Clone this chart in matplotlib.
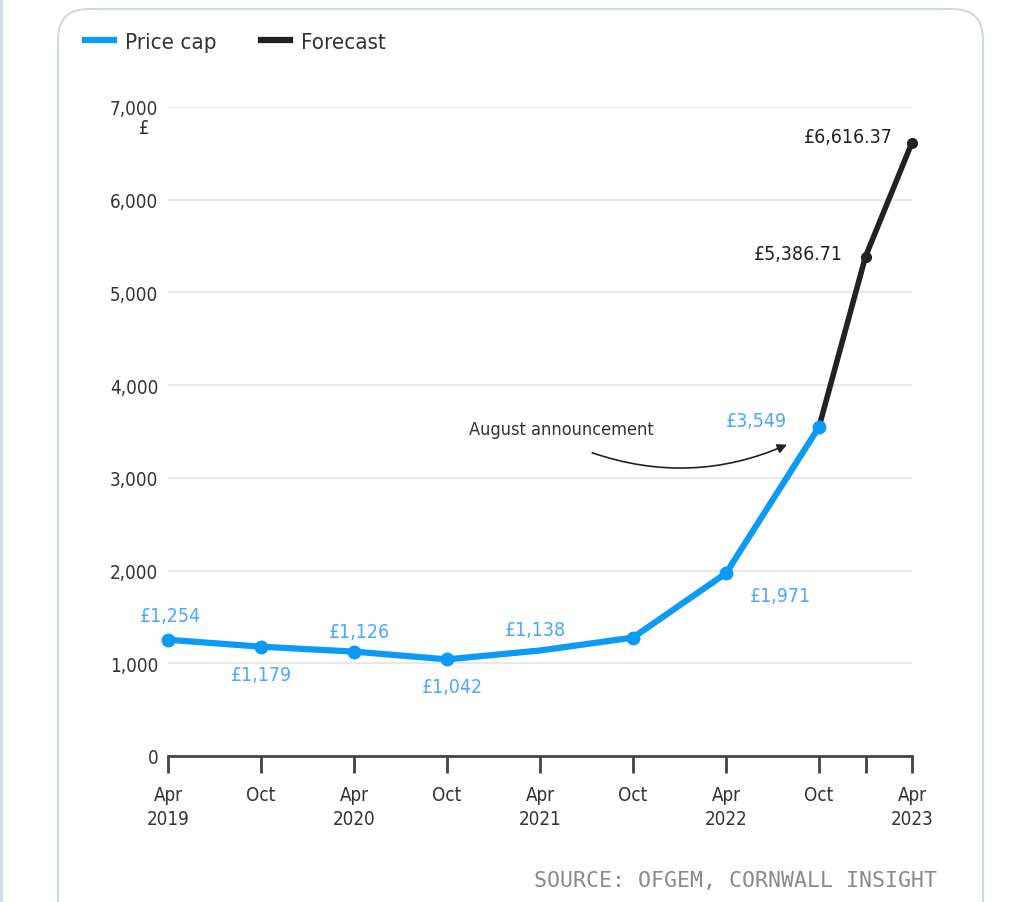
import matplotlib.pyplot as plt
from matplotlib.lines import Line2D
from matplotlib.patches import FancyBboxPatch, Rectangle

plt.rcParams['font.family'] = ['DejaVu Sans']
plt.rcParams['font.stretch'] = 'condensed'

# months since Apr 2019
months = [0, 6, 12, 18, 24, 30, 36, 42]
price_cap = [1254, 1179, 1126, 1042, 1138, 1277, 1971, 3549]
marker_mask = [True, True, True, True, False, True, True, True]
cap_labels = ['£1,254', '£1,179', '£1,126', '£1,042', '£1,138', None, '£1,971', '£3,549']

fc_months = [42, 45, 48]
forecast = [3549, 5386.71, 6616.37]
fc_labels = [None, '£5,386.71', '£6,616.37']

tick_months = [0, 6, 12, 18, 24, 30, 36, 42, 45, 48]
tick_labels = ['Apr\n2019', 'Oct', 'Apr\n2020', 'Oct', 'Apr\n2021', 'Oct', 'Apr\n2022', 'Oct', '', 'Apr\n2023']
y_ticks = [0, 1000, 2000, 3000, 4000, 5000, 6000, 7000]

BLUE = '#0b9bf5'
LBLUE = '#4da6ff'
BLACK = '#222222'

fig = plt.figure(figsize=(10.17, 9.03), dpi=100)
fig.patch.set_facecolor('white')

# card background
fig.add_artist(Rectangle((0, 0), 3 / 1017, 1, transform=fig.transFigure,
                         facecolor='#d3dce4', edgecolor='none', zorder=-2))
fig.add_artist(FancyBboxPatch((58 / 1017, -0.05), 925 / 1017, (903 - 10) / 903 + 0.05,
                              boxstyle='round,pad=0,rounding_size=0.03',
                              transform=fig.transFigure, facecolor='white',
                              edgecolor='#cfd9e0', linewidth=1.5, mutation_aspect=1017 / 903,
                              zorder=-2))

ax = fig.add_axes([168 / 1017, (903 - 757) / 903, (912 - 168) / 1017, (757 - 108) / 903])
ax.set_facecolor('none')
ax.set_xlim(0, 48)
ax.set_ylim(0, 7000)

for y in y_ticks[1:]:
    ax.axhline(y, color='#e4e4e4', linewidth=1.2, zorder=0)

ax.plot(fc_months, forecast, color=BLACK, linewidth=4, zorder=2, solid_capstyle='round',
        clip_on=False)
ax.plot(fc_months[1:], forecast[1:], 'o', color=BLACK, markersize=7, zorder=3, clip_on=False)
ax.plot(months, price_cap, color=BLUE, linewidth=4.5, zorder=4, solid_capstyle='round',
        clip_on=False)
ax.plot([m for m, k in zip(months, marker_mask) if k],
        [v for v, k in zip(price_cap, marker_mask) if k],
        'o', color=BLUE, markersize=9, zorder=5, clip_on=False)

cap_offsets = [(2, 24), (0, -28), (5, 20), (5, -27), (-5, 21), None, (54, -22), (-63, 6)]
for m, v, lab, off in zip(months, price_cap, cap_labels, cap_offsets):
    if lab:
        ax.annotate(lab, (m, v), xytext=off, textcoords='offset pixels',
                    ha='center', va='center', color=LBLUE, fontsize=14)

fc_offsets = [None, (-23, 3), (-19, 6)]
for m, v, lab, off in zip(fc_months, forecast, fc_labels, fc_offsets):
    if lab:
        ax.annotate(lab, (m, v), xytext=off, textcoords='offset pixels',
                    ha='right', va='center', color=BLACK, fontsize=14)

ax.annotate('', xy=(40.1, 3370), xytext=(27.2, 3280),
            arrowprops=dict(arrowstyle='-|>', color=BLACK, lw=1.2,
                            connectionstyle='arc3,rad=0.2', mutation_scale=14))
ax.text(25.4, 3530, 'August announcement', color='#333333', fontsize=13,
        ha='center', va='center')

for s in ['top', 'right', 'left']:
    ax.spines[s].set_visible(False)
ax.spines['bottom'].set_color('#444444')
ax.spines['bottom'].set_linewidth(2)

ax.set_yticks(y_ticks)
ax.set_yticklabels([f'{v:,}' for v in y_ticks], fontsize=13.5, color='#333333')
ax.tick_params(axis='y', length=0, pad=7)
ax.set_xticks(tick_months)
ax.set_xticklabels(tick_labels, fontsize=13.5, color='#333333', linespacing=1.35)
ax.tick_params(axis='x', length=12, width=2, color='#444444', pad=9)
ax.text(-0.025, 6780, '£', transform=ax.get_yaxis_transform(), ha='right', va='center',
        fontsize=13.5, color='#333333')

handles = [Line2D([], [], color=BLUE, linewidth=4.5),
           Line2D([], [], color=BLACK, linewidth=4.5)]
fig.legend(handles, ['Price cap', 'Forecast'], loc='upper left',
           bbox_to_anchor=(65 / 1017, 1 - 13 / 903), ncol=2, frameon=False,
           fontsize=16, handlelength=1.3, handletextpad=0.5, columnspacing=2.0,
           labelcolor='#333333')

fig.text(937 / 1017, 1 - 881 / 903, 'SOURCE: OFGEM, CORNWALL INSIGHT', ha='right', va='center',
         fontsize=15.5, color='#8a8a8a', family=['DejaVu Sans Mono'])

fig.savefig('out.png', dpi=100)
